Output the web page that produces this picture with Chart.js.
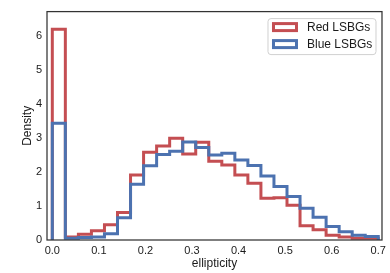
<!DOCTYPE html>
<html>
<head>
<meta charset="utf-8">
<script src="https://cdn.jsdelivr.net/npm/chart.js@4.4.1/dist/chart.umd.min.js"></script>
<style>
  body { margin: 0; background: #fff; }
  canvas { display: block; }
</style>
</head>
<body>
<canvas id="hist" width="390" height="273"></canvas>
<script>
// bin edges of the histogram (ellipticity)
const binEdges = [0.000, 0.028, 0.056, 0.084, 0.112, 0.140, 0.168, 0.196, 0.224, 0.252,
                  0.280, 0.308, 0.336, 0.364, 0.392, 0.420, 0.448, 0.476, 0.504, 0.532,
                  0.560, 0.588, 0.616, 0.644, 0.672, 0.700];
// density per bin
const redDensity  = [6.19, 0.09, 0.17, 0.27, 0.45, 0.81, 1.91, 2.58, 2.76, 2.99, 2.53, 2.87, 2.31,
                     2.20, 1.91, 1.67, 1.23, 1.24, 1.02, 0.42, 0.30, 0.14, 0.09, 0.05, 0.05];
const blueDensity = [3.43, 0.05, 0.07, 0.09, 0.18, 0.65, 1.64, 2.18, 2.51, 2.61, 2.88, 2.72, 2.50,
                     2.55, 2.35, 2.19, 1.88, 1.57, 1.28, 0.93, 0.67, 0.40, 0.24, 0.14, 0.10];
const xTicks = [0.0, 0.1, 0.2, 0.3, 0.4, 0.5, 0.6, 0.7];
const yTicks = [0, 1, 2, 3, 4, 5, 6];
const seriesNames = ["Red LSBGs", "Blue LSBGs"];

const FONT = "'Liberation Sans', Arial, sans-serif";

// outline like matplotlib histtype='step'
function stepPoints(vals){
    let pts = [{x: binEdges[0], y: 0}];
    vals.forEach((v, i) => pts.push({x: binEdges[i], y: v}));
    pts.push({x: binEdges[binEdges.length - 1], y: 0});
    return pts;
}

// frame round the plot area
const frame = {
    id: "frame",
    afterDatasetsDraw(chart){
        let a = chart.chartArea, ctx = chart.ctx;
        ctx.save();
        ctx.strokeStyle = "#333";
        ctx.lineWidth = 1.25;
        ctx.strokeRect(a.left, a.top, a.right - a.left, a.bottom - a.top);
        ctx.restore();
    }
};

// legend box in the upper right corner
const boxLegend = {
    id: "boxLegend",
    afterDraw(chart){
        let a = chart.chartArea, ctx = chart.ctx;
        let w = 108, h = 36;
        let x0 = a.right - 6 - w, y0 = a.top + 7;
        ctx.save();
        ctx.beginPath();
        ctx.roundRect(x0, y0, w, h, 3);
        ctx.fillStyle = "rgba(255,255,255,0.85)";
        ctx.fill();
        ctx.strokeStyle = "#d0d0d0";
        ctx.lineWidth = 1;
        ctx.stroke();
        chart.data.datasets.forEach((ds, i) => {
            let yc = y0 + 8.5 + i * 17;
            ctx.strokeStyle = ds.borderColor;
            ctx.lineWidth = 3;
            ctx.strokeRect(x0 + 5.5, yc - 3.5, 23, 7);
            ctx.fillStyle = "#1a1a1a";
            ctx.font = "12px " + FONT;
            ctx.textBaseline = "middle";
            ctx.textAlign = "left";
            ctx.fillText(ds.label, x0 + 39, yc + 0.5);
        });
        ctx.restore();
    }
};

new Chart(document.getElementById("hist"), {
    type: "line",
    data: {
        datasets: [
            {label: seriesNames[0], data: stepPoints(redDensity), borderColor: "#c44e52",
             backgroundColor: "#fff", borderWidth: 3, stepped: "before", fill: false,
             pointRadius: 0, borderJoinStyle: "miter", order: 1},
            {label: seriesNames[1], data: stepPoints(blueDensity), borderColor: "#4c72b0",
             backgroundColor: "#fff", borderWidth: 3, stepped: "before", fill: false,
             pointRadius: 0, borderJoinStyle: "miter", order: 0}
        ]
    },
    options: {
        responsive: false,
        animation: false,
        layout: {padding: {top: 5, right: 8, left: 0, bottom: 0}},
        plugins: {legend: {display: false}, tooltip: {enabled: false}},
        scales: {
            x: {
                type: "linear",
                min: -0.0114, max: 0.708,
                grid: {display: false, drawTicks: false},
                border: {display: false},
                afterBuildTicks: s => { s.ticks = xTicks.map(v => ({value: v})); },
                afterFit: s => { s.height = 33; },
                ticks: {color: "#1a1a1a", font: {family: FONT, size: 11}, padding: 4,
                        callback: v => v.toFixed(1), maxRotation: 0},
                title: {display: true, text: "ellipticity", color: "#1a1a1a",
                        font: {family: FONT, size: 12}, padding: {top: 0, bottom: 2}}
            },
            y: {
                min: 0, max: 6.71,
                grid: {display: false, drawTicks: false},
                border: {display: false},
                afterBuildTicks: s => { s.ticks = yTicks.map(v => ({value: v})); },
                afterFit: s => { s.width = 47; },
                ticks: {color: "#1a1a1a", font: {family: FONT, size: 11}, padding: 5},
                title: {display: true, text: "Density", color: "#1a1a1a",
                        font: {family: FONT, size: 12}, padding: {top: 20, bottom: 0}}
            }
        }
    },
    plugins: [frame, boxLegend]
});
</script>
</body>
</html>
